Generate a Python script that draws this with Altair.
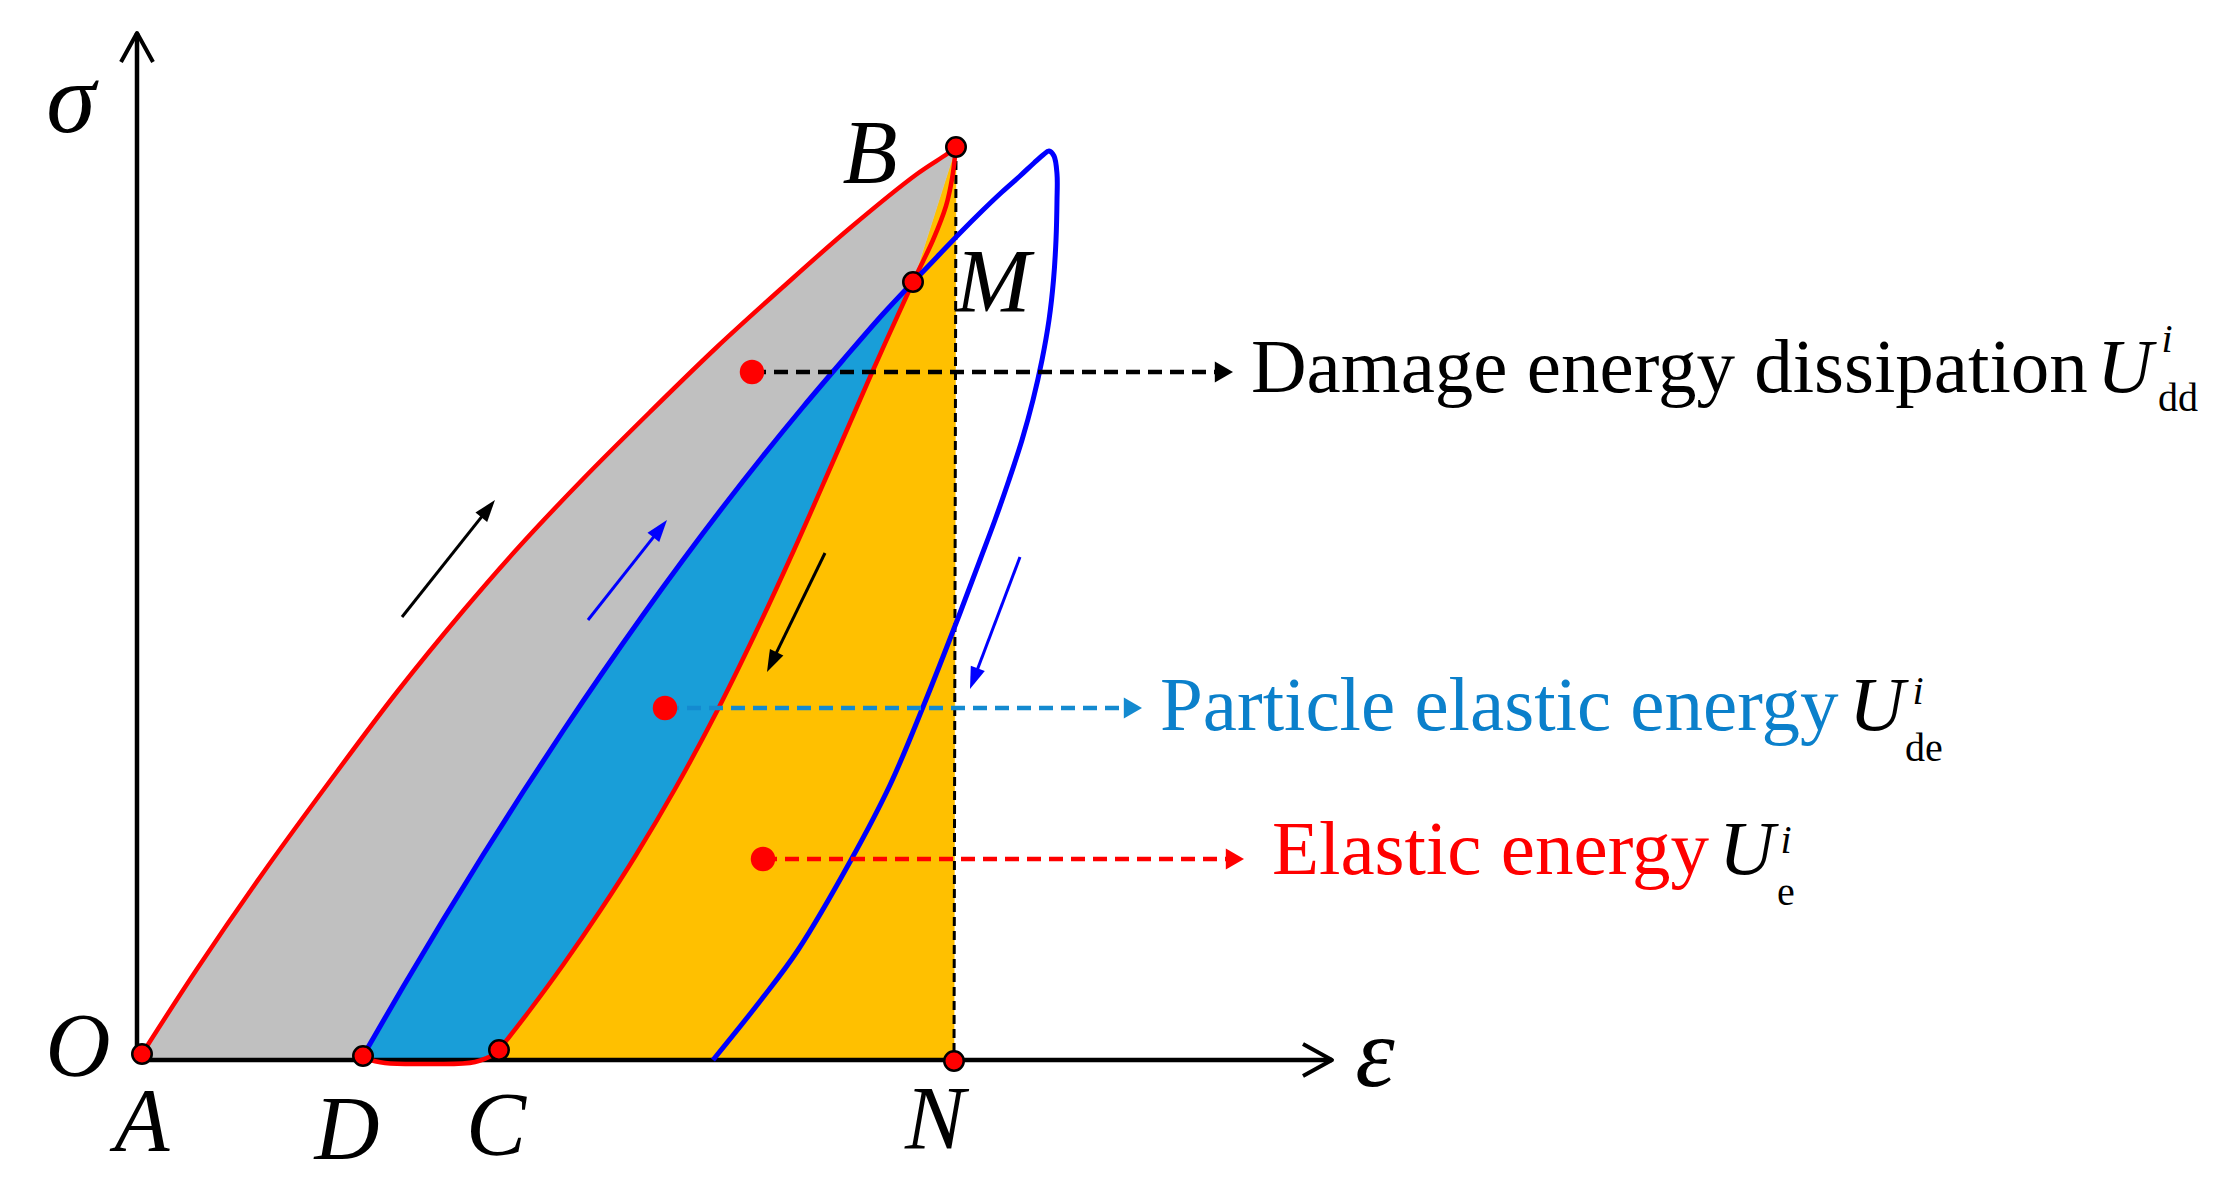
import math
import altair as alt
import pandas as pd

# ---------------- data (schematic units: strain e = ε, stress s = σ) ----------------
# loading curve O -> B (red)
load_e = [0.5, 6.0, 12.6, 19.3, 26.0, 32.6, 38.0, 44.6, 51.3, 58.0, 64.6, 71.3, 78.0, 81.0, 81.9]
load_s = [0.6, 9.1, 18.7, 27.9, 36.8, 44.9, 51.1, 58.1, 64.8, 71.3, 77.3, 83.2, 88.6, 90.6, 91.3]

# reloading curve D -> M (blue)
rel_e = [22.6, 26.6, 30.6, 34.6, 38.6, 42.6, 46.6, 50.6, 54.6, 58.6, 62.6, 66.6, 70.6, 74.6, 77.6]
rel_s = [0.4, 7.3, 14.0, 20.5, 26.8, 32.9, 38.8, 44.5, 50.0, 55.3, 60.4, 65.3, 70.0, 74.6, 77.8]
# continuation M -> peak -> unloading back to the axis (blue)
cont_e = [80.0, 82.3, 84.5, 86.5, 88.3, 89.7, 90.6, 91.2, 91.7, 92.0, 92.0, 91.9, 91.65, 91.2, 90.5,
          89.6, 88.5, 87.2, 85.8, 84.3, 82.3, 78.6, 75.3, 71.4, 66.1, 62.4, 57.6]
cont_s = [80.3, 82.7, 84.9, 86.8, 88.4, 89.7, 90.5, 90.9, 90.4, 88.6, 86.0, 82.0, 78.0, 74.0, 70.0,
          66.0, 62.0, 58.0, 54.0, 50.0, 44.7, 35.3, 27.5, 20.0, 11.0, 6.0, 0.0]

# elastic (unloading) curve C -> M -> B (red)
unl_e = [36.2, 39.3, 42.6, 46.3, 49.9, 53.8, 57.8, 61.8, 65.7, 69.5, 73.3, 77.6, 79.6, 80.9, 81.5, 81.9]
unl_s = [1.0, 5.0, 9.5, 14.9, 20.5, 27.1, 34.5, 42.6, 51.0, 59.6, 68.3, 77.8, 82.0, 85.4, 88.1, 91.3]
UNL_M_INDEX = 11

# small residual curve D -> C (red)
sag_e = [22.6, 24.8, 29.3, 33.8, 36.2]
sag_s = [0.2, -0.3, -0.4, -0.2, 0.8]

# key points
pt_names = ["O", "D", "C", "N", "B", "M"]
pt_e = [0.5, 22.6, 36.2, 81.7, 81.9, 77.6]
pt_s = [0.6, 0.4, 1.0, -0.1, 91.3, 77.8]

# point labels
lab_text = ["O", "A", "D", "C", "N", "B", "M"]
lab_e = [-5.9, 0.5, 21.0, 35.9, 79.8, 73.3, 85.6]
lab_s = [1.1, -6.4, -7.2, -6.8, -6.2, 90.4, 77.5]

# axes
axis_len_e = 119.5
axis_len_s = 102.7
head_leg = [2.9, 1.6]  # along, across

# direction arrows (tail -> tip)
arr_tail_e = [26.5, 45.1, 68.8, 88.3]
arr_tail_s = [44.3, 44.0, 50.7, 50.3]
arr_tip_e = [35.8, 53.0, 63.0, 83.3]
arr_tip_s = [56.0, 54.0, 38.8, 37.1]
arr_col = ["#000000", "#0000FF", "#000000", "#0000FF"]

# annotation arrows (dot -> text)
ann_dot_e = [61.5, 52.8, 62.6]
ann_dot_s = [68.8, 35.2, 20.1]
ann_tip_e = [109.6, 100.5, 110.7]
ann_line_col = ["#000000", "#148AD0", "#FF0000"]

ann_text = ["Damage energy dissipation", "Particle elastic energy", "Elastic energy"]
ann_text_e = [111.4, 102.3, 113.5]
ann_text_s = [66.8, 33.0, 18.6]
ann_text_col = ["#000000", "#0B80CB", "#FF0000"]
u_e = [196.0, 171.2, 158.2]
sup_e = [203.0, 178.1, 164.9]
sup_s = [70.8, 35.6, 20.7]
sub_text = ["dd", "de", "e"]
sub_e = [202.1, 176.8, 164.0]
sub_s = [64.9, 29.9, 15.5]

# ---------------- layout ----------------
W, H = 2200, 1170
PX = 10.0  # pixels per unit on both axes
TOP = 105.2
xs = alt.Scale(domain=[-12.9, -12.9 + W / PX], nice=False, zero=False)
ys = alt.Scale(domain=[TOP - H / PX, TOP], nice=False, zero=False)
X = alt.X("e:Q", scale=xs, axis=None)
Y = alt.Y("s:Q", scale=ys, axis=None)
SERIF = "Liberation Serif"


def path_df(es, ss):
    return pd.DataFrame({"e": list(es), "s": list(ss), "k": list(range(len(es)))})


def polygon(es, ss, color):
    return alt.Chart(path_df(es, ss)).mark_line(
        fill=color, stroke=color, strokeWidth=0.5, interpolate="linear"
    ).encode(x=X, y=Y, order="k:Q")


def curve(es, ss, color, width=4.5, interp="catmull-rom", dash=None):
    kw = dict(color=color, strokeWidth=width, interpolate=interp, strokeCap="butt", strokeJoin="round")
    if dash:
        kw["strokeDash"] = dash
    return alt.Chart(path_df(es, ss)).mark_line(**kw).encode(x=X, y=Y, order="k:Q")


layers = []

# ---- filled regions ----
yel_e = unl_e[:UNL_M_INDEX + 1] + [pt_e[4], pt_e[3], pt_e[2]]
yel_s = unl_s[:UNL_M_INDEX + 1] + [pt_s[4], 0.0, 0.0]
layers.append(polygon(yel_e, yel_s, "#FFC000"))

blue_e = rel_e + unl_e[:UNL_M_INDEX][::-1] + sag_e[::-1][1:]
blue_s = rel_s + unl_s[:UNL_M_INDEX][::-1] + sag_s[::-1][1:]
layers.append(polygon(blue_e, blue_s, "#199ED8"))

gray_e = [0.0] + load_e + rel_e[::-1] + [22.6]
gray_s = [0.0] + load_s + rel_s[::-1] + [0.0]
layers.append(polygon(gray_e, gray_s, "#C0C0C0"))

# ---- vertical dashed line B -> N ----
layers.append(curve([pt_e[4], pt_e[3]], [pt_s[4], 0.0], "#000000", width=3, interp="linear", dash=[9, 5]))

# ---- axes ----
layers.append(curve([0, 0], [0, axis_len_s], "#000000", width=4.5, interp="linear"))
layers.append(curve([0, axis_len_e], [0, 0], "#000000", width=4.5, interp="linear"))
layers.append(curve([-head_leg[1], 0, head_leg[1]],
                    [axis_len_s - head_leg[0], axis_len_s, axis_len_s - head_leg[0]],
                    "#000000", width=4, interp="linear"))
layers.append(curve([axis_len_e - head_leg[0], axis_len_e, axis_len_e - head_leg[0]],
                    [head_leg[1], 0, -head_leg[1]], "#000000", width=4, interp="linear"))

# ---- curves ----
layers.append(curve(load_e, load_s, "#FF0000", width=4.5))
layers.append(curve(unl_e, unl_s, "#FF0000", width=4.5))
layers.append(curve(sag_e, sag_s, "#FF0000", width=4.5))
layers.append(curve(rel_e + cont_e, rel_s + cont_s, "#0000FF", width=5))

# ---- annotation dashed arrows ----
HEAD_ANN = 440
h_ann = math.sqrt(3) / 2 * math.sqrt(HEAD_ANN) / 2 / PX
for i in range(3):
    layers.append(curve([ann_dot_e[i], ann_tip_e[i] - 1.6 * h_ann], [ann_dot_s[i], ann_dot_s[i]],
                        ann_line_col[i], width=4.5, interp="linear", dash=[14, 8]))
ann_head = pd.DataFrame({"e": [t - h_ann for t in ann_tip_e], "s": ann_dot_s, "c": ann_line_col})
layers.append(alt.Chart(ann_head).mark_point(shape="triangle-right", filled=True, size=HEAD_ANN, opacity=1)
              .encode(x=X, y=Y, color=alt.Color("c:N", scale=None)))

# ---- direction arrows (slender heads) ----
HEAD_DIR = 484
r_dir = math.sqrt(HEAD_DIR) / 2 / PX
HEAD_PATH = "M0,-1L-0.68,1L0.68,1Z"
shaft_rows, head_rows = [], []
for i in range(4):
    dx = arr_tip_e[i] - arr_tail_e[i]
    dy = arr_tip_s[i] - arr_tail_s[i]
    L = math.hypot(dx, dy)
    ux, uy = dx / L, dy / L
    ang = math.degrees(math.atan2(dx, dy)) % 360
    hc_e = arr_tip_e[i] - r_dir * ux
    hc_s = arr_tip_s[i] - r_dir * uy
    shaft_rows.append({"e": arr_tail_e[i], "s": arr_tail_s[i], "e2": hc_e, "s2": hc_s, "c": arr_col[i]})
    head_rows.append({"e": hc_e, "s": hc_s, "a": ang, "c": arr_col[i]})
layers.append(alt.Chart(pd.DataFrame(shaft_rows)).mark_rule(strokeWidth=3)
              .encode(x=X, y=Y, x2="e2:Q", y2="s2:Q", color=alt.Color("c:N", scale=None)))
layers.append(alt.Chart(pd.DataFrame(head_rows)).mark_point(shape=HEAD_PATH, filled=True, size=HEAD_DIR, opacity=1)
              .encode(x=X, y=Y, angle=alt.Angle("a:Q", scale=None), color=alt.Color("c:N", scale=None)))

# ---- points ----
layers.append(alt.Chart(pd.DataFrame({"e": ann_dot_e, "s": ann_dot_s}))
              .mark_point(shape="circle", filled=True, color="#FF0000", size=600, opacity=1)
              .encode(x=X, y=Y))
layers.append(alt.Chart(pd.DataFrame({"e": pt_e, "s": pt_s, "n": pt_names}))
              .mark_point(shape="circle", filled=True, color="#FF0000", stroke="#000000", strokeWidth=2.5,
                          size=380, opacity=1)
              .encode(x=X, y=Y))

# ---- text ----
layers.append(alt.Chart(pd.DataFrame({"e": lab_e, "s": lab_s, "t": lab_text}))
              .mark_text(font=SERIF, fontStyle="italic", fontSize=90, align="center", baseline="middle", color="#000000")
              .encode(x=X, y=Y, text="t:N"))
layers.append(alt.Chart(pd.DataFrame({"e": [-6.6, 123.8], "s": [95.8, 0.4], "t": ["σ", "ε"]}))
              .mark_text(font=SERIF, fontStyle="italic", fontSize=100, align="center", baseline="middle", color="#000000")
              .encode(x=X, y=Y, text="t:N"))
layers.append(alt.Chart(pd.DataFrame({"e": ann_text_e, "s": ann_text_s, "t": ann_text, "c": ann_text_col}))
              .mark_text(font=SERIF, fontSize=77, align="left", baseline="alphabetic")
              .encode(x=X, y=Y, text="t:N", color=alt.Color("c:N", scale=None)))
layers.append(alt.Chart(pd.DataFrame({"e": u_e, "s": ann_text_s, "t": ["U", "U", "U"]}))
              .mark_text(font=SERIF, fontStyle="italic", fontSize=77, align="left", baseline="alphabetic", color="#000000")
              .encode(x=X, y=Y, text="t:N"))
layers.append(alt.Chart(pd.DataFrame({"e": sup_e, "s": sup_s, "t": ["i", "i", "i"]}))
              .mark_text(font=SERIF, fontStyle="italic", fontSize=40, align="center", baseline="alphabetic", color="#000000")
              .encode(x=X, y=Y, text="t:N"))
layers.append(alt.Chart(pd.DataFrame({"e": sub_e, "s": sub_s, "t": sub_text}))
              .mark_text(font=SERIF, fontSize=40, align="left", baseline="alphabetic", color="#000000")
              .encode(x=X, y=Y, text="t:N"))

chart = alt.layer(*layers).properties(
    width=W, height=H, padding=0, autosize=alt.AutoSizeParams(type="none"), background="#FFFFFF"
).configure_view(strokeWidth=0)

chart.save("out.html", embed_options={"renderer": "svg", "actions": False})
